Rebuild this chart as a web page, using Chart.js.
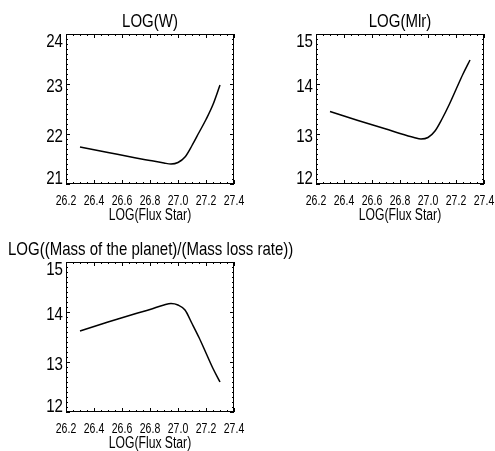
<!DOCTYPE html>
<html>
<head>
<meta charset="utf-8">
<script src="https://cdn.jsdelivr.net/npm/chart.js@4.4.1/dist/chart.umd.min.js"></script>
<style>
  body { margin: 0; background: #fff; width: 495px; height: 451px; position: relative; overflow: hidden; }
  .panel { position: absolute; }
</style>
</head>
<body>
<div class="panel" style="left:0;top:0"><canvas id="chart-w" width="250" height="228"></canvas></div>
<div class="panel" style="left:250px;top:0"><canvas id="chart-mlr" width="245" height="228"></canvas></div>
<div class="panel" style="left:0;top:228px"><canvas id="chart-ratio" width="495" height="228"></canvas></div>
<script>
// values
const fluxStar = [26.3, 26.5, 26.7, 26.8, 26.9, 26.95, 27.0, 27.05, 27.1, 27.15, 27.2, 27.25, 27.3];
const logW = [21.74, 21.63, 21.52, 21.47, 21.42, 21.40, 21.43, 21.54, 21.77, 22.03, 22.29, 22.59, 22.98];
const logMlr = [13.45, 13.27, 13.10, 13.01, 12.93, 12.90, 12.93, 13.06, 13.30, 13.58, 13.89, 14.20, 14.48];
const logMassOverMlr = [13.62, 13.80, 13.97, 14.05, 14.14, 14.17, 14.14, 14.04, 13.77, 13.49, 13.18, 12.87, 12.60];

const X_RANGE = [26.2, 27.4];
const X_STEP = 0.2;
const Y_RANGE_W = [21, 24];
const Y_RANGE_MLR = [12, 15];
const Y_RANGE_RATIO = [12, 15];
const X_TITLE = "LOG(Flux Star)";

const FONT = "'Liberation Sans', Arial, sans-serif";

// no narrow face installed, so text is squeezed horizontally
function narrowText(ctx, text, x, y, size, sx, align) {
  ctx.save();
  ctx.translate(x, y);
  ctx.scale(sx, 1);
  ctx.font = size + "px " + FONT;
  ctx.textAlign = align;
  ctx.textBaseline = "alphabetic";
  ctx.fillStyle = "#000";
  ctx.fillText(text, 0, 0);
  ctx.restore();
}

// IDL style box: frame on four sides, ticks pointing inwards, plus all texts
const idlFrame = {
  id: "idlFrame",
  afterDatasetsDraw(chart) {
    const { ctx, chartArea: a } = chart;
    const x = chart.scales.x;
    const y = chart.scales.y;
    ctx.save();
    ctx.strokeStyle = "#000";
    ctx.lineWidth = 1;
    ctx.strokeRect(a.left + 0.5, a.top + 0.5, a.width - 1, a.height - 1);
    ctx.beginPath();
    // x: 4 minor intervals per major
    const nx = Math.round((x.max - x.min) / 0.05);
    for (let i = 0; i <= nx; i++) {
      const px = Math.round(x.getPixelForValue(x.min + i * 0.05)) + 0.5;
      const len = i % 4 === 0 ? 4 : 2;
      ctx.moveTo(px, a.bottom);
      ctx.lineTo(px, a.bottom - len);
      ctx.moveTo(px, a.top);
      ctx.lineTo(px, a.top + len);
    }
    // y: 10 minor intervals per major
    const ny = Math.round((y.max - y.min) / 0.1);
    for (let i = 0; i <= ny; i++) {
      const py = Math.round(y.getPixelForValue(y.min + i * 0.1)) + 0.5;
      const len = i % 10 === 0 ? 4 : 2;
      ctx.moveTo(a.left, py);
      ctx.lineTo(a.left + len, py);
      ctx.moveTo(a.right, py);
      ctx.lineTo(a.right - len, py);
    }
    ctx.stroke();
    ctx.restore();
  },
  afterDraw(chart, args, opts) {
    const { ctx, chartArea: a } = chart;
    const x = chart.scales.x;
    const y = chart.scales.y;

    x.ticks.forEach((t) => {
      const px = x.getPixelForValue(t.value);
      narrowText(ctx, t.value.toFixed(1), px, a.bottom + 21, 15, 0.7, "center");
    });
    y.ticks.forEach((t) => {
      let cy = y.getPixelForValue(t.value) + 1;
      cy = Math.min(Math.max(cy, a.top + 6.5), a.bottom - 6.5);
      narrowText(ctx, String(t.value), a.left - 3, cy + 6.5, 18, 0.84, "right");
    });
    narrowText(ctx, X_TITLE, (a.left + a.right) / 2, a.bottom + 36, 16, 0.76, "center");

    if (opts.left != null) {
      narrowText(ctx, opts.text, opts.left, a.top - 7, 19, 0.79, "left");
    } else {
      narrowText(ctx, opts.text, (a.left + a.right) / 2, a.top - 7, 19, 0.79, "center");
    }
  },
};

function makePanel(id, title, values, yRange, titleLeft) {
  const el = document.getElementById(id);
  return new Chart(el, {
    type: "line",
    data: {
      datasets: [
        {
          data: fluxStar.map((f, i) => ({ x: f, y: values[i] })),
          borderColor: "#000",
          borderWidth: 1.5,
          pointRadius: 0,
          cubicInterpolationMode: "monotone",
          fill: false,
        },
      ],
    },
    options: {
      responsive: false,
      animation: false,
      events: [],
      layout: { padding: { top: 34, right: el.width - 234, left: 0, bottom: 0 } },
      plugins: {
        legend: { display: false },
        tooltip: { enabled: false },
        idlFrame: { text: title, left: titleLeft },
      },
      scales: {
        x: {
          type: "linear",
          min: X_RANGE[0],
          max: X_RANGE[1],
          grid: { display: false, drawTicks: false, tickLength: 0 },
          border: { display: false },
          ticks: { stepSize: X_STEP, autoSkip: false, display: false },
          afterFit: (s) => { s.height = 44; },
        },
        y: {
          type: "linear",
          min: yRange[0],
          max: yRange[1],
          grid: { display: false, drawTicks: false, tickLength: 0 },
          border: { display: false },
          ticks: { stepSize: 1, display: false },
          afterFit: (s) => { s.width = 66; },
        },
      },
    },
    plugins: [idlFrame],
  });
}

makePanel("chart-w", "LOG(W)", logW, Y_RANGE_W);
makePanel("chart-mlr", "LOG(Mlr)", logMlr, Y_RANGE_MLR);
makePanel("chart-ratio", "LOG((Mass of the planet)/(Mass loss rate))", logMassOverMlr, Y_RANGE_RATIO, 8);
</script>
</body>
</html>
